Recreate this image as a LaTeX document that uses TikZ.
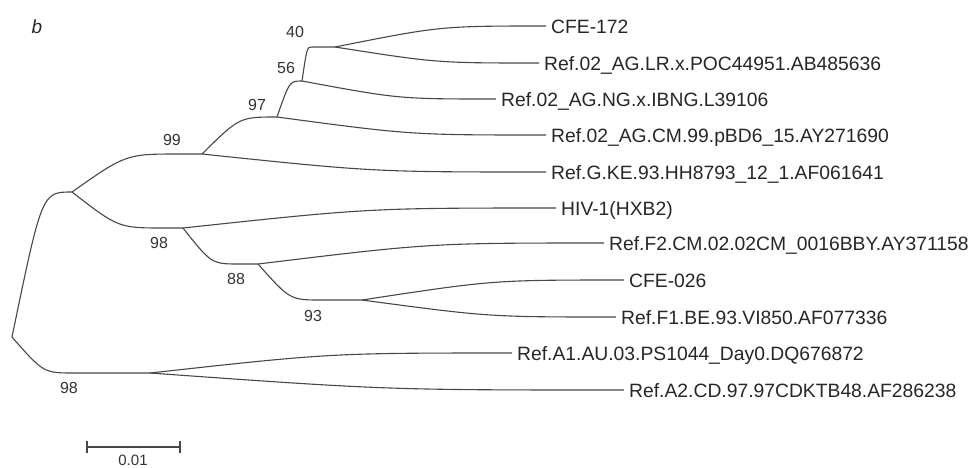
\documentclass[tikz,border=0pt]{standalone}
\usepackage{fontspec}
\setmainfont{Liberation Sans}
\usetikzlibrary{calc}
\begin{document}
\begin{tikzpicture}[x=1pt,y=-1pt,
  branch/.style={draw=black!72, line width=1.1pt, line join=round},
  qc/.style={to path={let \p1=(\tikztostart), \p2=(\tikztotarget) in
      .. controls ({(\x1+\x2)/2},\y2) .. (\tikztotarget)}},
  leaf/.style={anchor=west, inner xsep=5pt, inner ysep=0pt, text height=14pt, text depth=0pt,
      font=\fontsize{19.3}{20}\selectfont, text=black!85},
  boot/.style={inner sep=0pt, font=\fontsize{16}{17}\selectfont, text=black!80},
]
\useasboundingbox (0,0) rectangle (979,467);

% panel letter
\node[inner sep=0pt, font=\fontsize{19}{20}\selectfont\itshape, text=black!85] (panel) at (37,27) {b};

% internal nodes
\coordinate (R) at (12,337);
\coordinate (A) at (72,192);
\coordinate (c99) at (180,154);
\coordinate (n99) at (202,154);
\coordinate (n97) at (277,117);
\coordinate (n56) at (302,81);
\coordinate (c40) at (312,47);
\coordinate (n40) at (335,47);
\coordinate (c98) at (165,228);
\coordinate (n98) at (183,228);
\coordinate (c88) at (240,264);
\coordinate (n88) at (258,264);
\coordinate (c93) at (322,300);
\coordinate (n93) at (362,300);
\coordinate (cB) at (75,373);
\coordinate (nB) at (150,373);

% leaves
\node[leaf] (L1)  at (546,26)  {CFE-172};
\node[leaf] (L2)  at (539,63)  {Ref.02\_AG.LR.x.POC44951.AB485636};
\node[leaf] (L3)  at (496,99)  {Ref.02\_AG.NG.x.IBNG.L39106};
\node[leaf] (L4)  at (546,135) {Ref.02\_AG.CM.99.pBD6\_15.AY271690};
\node[leaf] (L5)  at (546,172) {Ref.G.KE.93.HH8793\_12\_1.AF061641};
\node[leaf] (L6)  at (556,208) {HIV-1(HXB2)};
\node[leaf] (L7)  at (604,243) {Ref.F2.CM.02.02CM\_0016BBY.AY371158};
\node[leaf] (L8)  at (624,280) {CFE-026};
\node[leaf] (L9)  at (616,317) {Ref.F1.BE.93.VI850.AF077336};
\node[leaf] (L10) at (512,353) {Ref.A1.AU.03.PS1044\_Day0.DQ676872};
\node[leaf] (L11) at (624,390) {Ref.A2.CD.97.97CDKTB48.AF286238};

% branches
\path[branch] (R) to[qc] (A);
\path[branch] (R) to[qc] (cB) -- (nB);
\path[branch] (A) to[qc] (c99) -- (n99);
\path[branch] (n99) to[qc] (n97);
\path[branch] (n97) to[qc] (n56);
\path[branch] (n56) to[qc] (c40) -- (n40);
\path[branch] (n40) to[qc] (L1.west);
\path[branch] (n40) to[qc] (L2.west);
\path[branch] (n56) to[qc] (L3.west);
\path[branch] (n97) to[qc] (L4.west);
\path[branch] (n99) to[qc] (L5.west);
\path[branch] (A) to[qc] (c98) -- (n98);
\path[branch] (n98) to[qc] (L6.west);
\path[branch] (n98) to[qc] (c88) -- (n88);
\path[branch] (n88) to[qc] (L7.west);
\path[branch] (n88) to[qc] (c93) -- (n93);
\path[branch] (n93) to[qc] (L8.west);
\path[branch] (n93) to[qc] (L9.west);
\path[branch] (nB) to[qc] (L10.west);
\path[branch] (nB) to[qc] (L11.west);

% bootstrap values
\node[boot] (b40) at (295,32)  {40};
\node[boot] (b56) at (286,68)  {56};
\node[boot] (b97) at (257,105) {97};
\node[boot] (b99) at (172,140) {99};
\node[boot] (b98a) at (159,243) {98};
\node[boot] (b88) at (236,279) {88};
\node[boot] (b93) at (313,316) {93};
\node[boot] (b98b) at (69,388) {98};

% scale bar
\coordinate (sbL) at (87,447);
\coordinate (sbR) at (180,447);
\path[branch] (sbL) -- (sbR);
\path[branch] ([yshift=6pt]sbL) -- ([yshift=-6pt]sbL);
\path[branch] ([yshift=6pt]sbR) -- ([yshift=-6pt]sbR);
\node[inner sep=0pt, font=\fontsize{15}{16}\selectfont, text=black!80] (sblab) at (133,460) {0.01};
\end{tikzpicture}
\end{document}
